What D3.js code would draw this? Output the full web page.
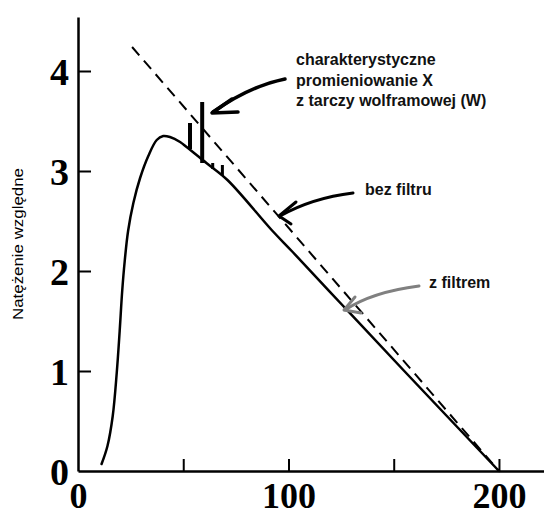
<!DOCTYPE html>
<html>
<head>
<meta charset="utf-8">
<script src="https://cdn.jsdelivr.net/npm/d3@7"></script>
<style>
  html, body { margin: 0; padding: 0; background: #fff; }
  svg { display: block; }
</style>
</head>
<body>
<script>
// ---- data ----
const filteredEnergy    = [11.2, 14.0, 16.5, 18.4, 19.8, 21.0, 22.2, 23.8, 26.3, 29.5, 33.4, 37.4, 40.5, 43.7, 48.5, 51.6, 61, 71, 92, 102, 126, 155, 200];
const filteredIntensity = [0.07, 0.25, 0.55, 0.98, 1.40, 1.80, 2.10, 2.40, 2.68, 2.93, 3.15, 3.31, 3.35, 3.34, 3.29, 3.24, 3.08, 2.91, 2.41, 2.19, 1.65, 1.00, 0.0];
const unfilteredEnergy    = [25.7, 200];
const unfilteredIntensity = [4.24, 0.0];
const lineEnergy = [53.2, 59.0, 64.0, 68.6];
const lineTop    = [3.48, 3.69, 3.08, 3.06];
const lineBase   = [3.22, 3.08, 3.02, 2.95];
const xTickValues = [0, 50, 100, 150, 200];
const xTickLabels = ["0", "", "100", "", "200"];
const yTickValues = [0, 1, 2, 3, 4];
const yTickLabels = ["0", "1", "2", "3", "4"];

const W = 544, H = 516;
const svg = d3.select("body").append("svg").attr("width", W).attr("height", H);

const x = d3.scaleLinear().domain([0, 221.4]).range([78, 544]);
const y = d3.scaleLinear().domain([0, 4.54]).range([471, 17]);

// axes
const xAxis = d3.axisBottom(x)
  .tickValues(xTickValues)
  .tickFormat((d, i) => xTickLabels[i])
  .tickSizeInner(-12).tickSizeOuter(0).tickPadding(11);
const gx = svg.append("g").attr("transform", `translate(0,${y(0)})`).call(xAxis);
gx.select(".domain").attr("stroke", "#000").attr("stroke-width", 2.5);
gx.selectAll(".tick line").attr("stroke", "#000").attr("stroke-width", 2)
  .attr("display", d => d === 0 ? "none" : null);
gx.selectAll(".tick text")
  .attr("font-family", "'Liberation Serif', 'Times New Roman', serif")
  .attr("font-weight", "bold").attr("font-size", 36).attr("fill", "#000");

const yAxis = d3.axisLeft(y)
  .tickValues(yTickValues)
  .tickFormat((d, i) => yTickLabels[i])
  .tickSizeInner(-13).tickSizeOuter(0).tickPadding(9);
const gy = svg.append("g").attr("transform", `translate(${x(0)},0)`).call(yAxis);
gy.select(".domain").attr("stroke", "#000").attr("stroke-width", 2.5);
gy.selectAll(".tick line").attr("stroke", "#000").attr("stroke-width", 2)
  .attr("display", d => d === 0 ? "none" : null);
gy.selectAll(".tick text")
  .attr("font-family", "'Liberation Serif', 'Times New Roman', serif")
  .attr("font-weight", "bold").attr("font-size", 38).attr("fill", "#000")
  .attr("dy", "0.36em");

// y axis title
svg.append("text")
  .attr("transform", `translate(23,${244}) rotate(-90)`)
  .attr("text-anchor", "middle")
  .attr("font-family", "'Liberation Sans', Arial, sans-serif")
  .attr("font-size", 15)
  .attr("textLength", 152).attr("lengthAdjust", "spacingAndGlyphs")
  .text("Natężenie względne");

// unfiltered (dashed)
const unfiltered = unfilteredEnergy.map((e, i) => [e, unfilteredIntensity[i]]);
svg.append("path")
  .datum(unfiltered)
  .attr("d", d3.line().x(d => x(d[0])).y(d => y(d[1])))
  .attr("fill", "none").attr("stroke", "#000").attr("stroke-width", 2)
  .attr("stroke-dasharray", "11,7");

// filtered (solid)
const filtered = filteredEnergy.map((e, i) => [e, filteredIntensity[i]]);
svg.append("path")
  .datum(filtered)
  .attr("d", d3.line().curve(d3.curveCatmullRom.alpha(0.5)).x(d => x(d[0])).y(d => y(d[1])))
  .attr("fill", "none").attr("stroke", "#000").attr("stroke-width", 2.5)
  .attr("stroke-linecap", "round");

// characteristic lines
svg.append("g").selectAll("line")
  .data(lineEnergy.map((e, i) => ({e, top: lineTop[i], base: lineBase[i]})))
  .join("line")
  .attr("x1", d => x(d.e)).attr("x2", d => x(d.e))
  .attr("y1", d => y(d.base)).attr("y2", d => y(d.top))
  .attr("stroke", "#000").attr("stroke-width", (d, i) => i < 2 ? 4 : 3);

// annotations
const ann = svg.append("g")
  .attr("font-family", "'Liberation Sans', Arial, sans-serif")
  .attr("font-weight", "bold").attr("font-size", 16).attr("fill", "#111");
ann.append("text").attr("x", 296).attr("y", 65).text("charakterystyczne");
ann.append("text").attr("x", 296).attr("y", 86).text("promieniowanie X");
ann.append("text").attr("x", 296).attr("y", 106).text("z tarczy wolframowej (W)");
ann.append("text").attr("x", 365).attr("y", 195).text("bez filtru");
ann.append("text").attr("x", 429).attr("y", 288).text("z filtrem");

function arrow(shaft, head, color, w) {
  const g = svg.append("g").attr("fill", "none").attr("stroke", color)
    .attr("stroke-width", w).attr("stroke-linecap", "round").attr("stroke-linejoin", "round");
  g.append("path").attr("d", shaft);
  g.append("path").attr("d", head);
}
arrow("M285,79 Q250,86 213,112", "M232,99 L212,113 L238,112", "#000", 3.5);
arrow("M353,193 Q312,198 280,216", "M296,202 L279,216 L291,224", "#000", 3);
arrow("M419,286 Q372,292 345,310", "M355,297 L344,310 L361,313", "#808080", 3);
</script>
</body>
</html>
